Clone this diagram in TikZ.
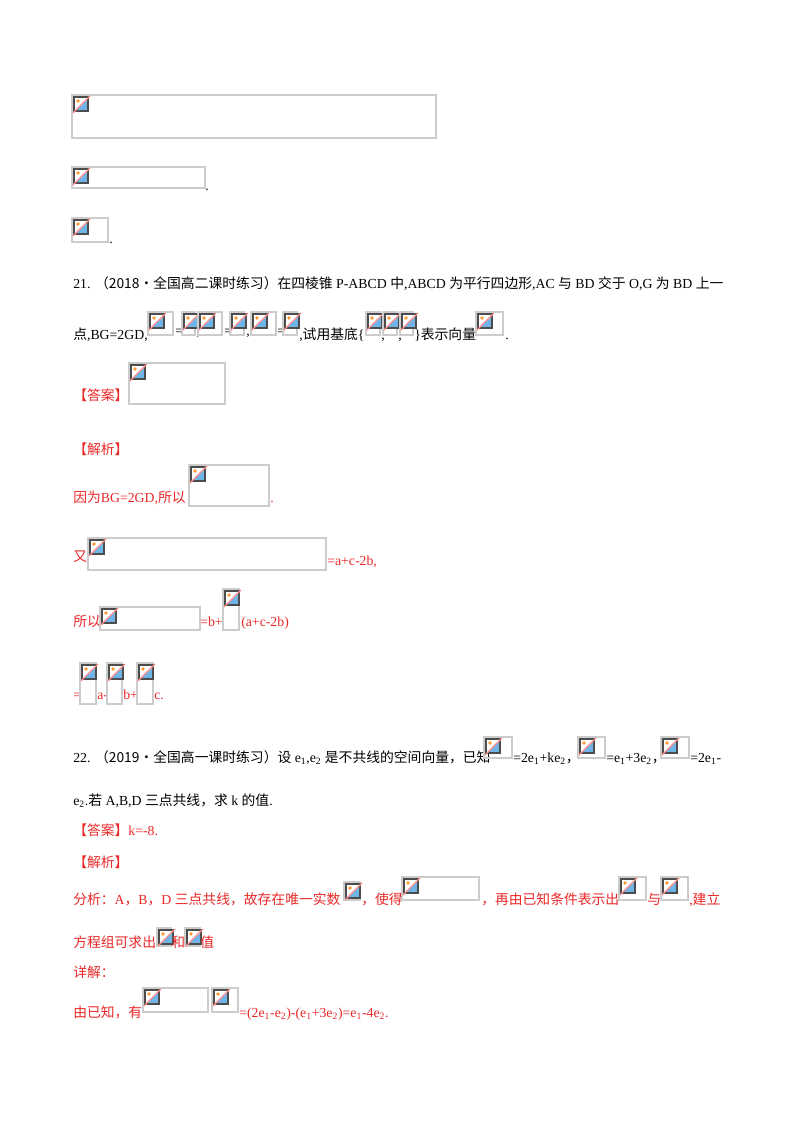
\documentclass[tikz,border=0pt]{standalone}
\usepackage{fontspec}
\setmainfont{Liberation Serif}
\newfontfamily\cjk{Noto Sans CJK SC}
\definecolor{ansred}{RGB}{235,40,40}
\definecolor{mtn}{RGB}{110,180,230}
\newcommand\phbox[4]{%
  \draw[black!20,line width=0.9] (#1,#2) rectangle ({#1+#3},{#2+#4});
  \fill[white] ({#1+1},{#2+1}) rectangle +(16,16);
  \fill[mtn] ({#1+4},{#2+15}) -- ({#1+15},{#2+5}) -- ({#1+15},{#2+15}) -- cycle;
  \fill[orange!80] ({#1+6},{#2+6}) circle (1.8);
  \draw[black!70,line width=1.3] ({#1+2},{#2+2}) rectangle +(14,14);
  \draw[red!45,line width=0.9] ({#1+1},{#2+18}) -- ({#1+18},{#2+1});
}
\newcommand\tx[3]{\node[anchor=base west,inner sep=0,font=\fontsize{10.35pt}{12pt}\selectfont] at (#1,#2) {#3};}
\newcommand\rt[3]{\node[anchor=base west,inner sep=0,text=ansred,font=\fontsize{10.35pt}{12pt}\selectfont] at (#1,#2) {#3};}
\begin{document}
\begin{tikzpicture}[x=0.75pt,y=-0.75pt]
\useasboundingbox[fill=white] (0,0) rectangle (800,1132);
\phbox{72}{95}{364}{43}
\phbox{72}{167}{133}{21}\tx{205}{190}{.}
\phbox{72}{218}{36}{24}\tx{109}{243}{.}
\tx{73}{288}{21.\,\,{\cjk （2018·全国高二课时练习）在四棱锥} P-ABCD {\cjk 中},ABCD {\cjk 为平行四边形},AC {\cjk 与} BD {\cjk 交于} O,G {\cjk 为} BD {\cjk 上一}}
\tx{73}{339}{{\cjk 点},BG=2GD,}
\phbox{148}{312}{25}{23}\tx{175}{335}{=}
\phbox{182}{312}{13}{23}\tx{196}{335}{,}
\phbox{198}{312}{24}{23}\tx{224}{335}{=}
\phbox{230}{312}{14}{23}\tx{246}{335}{,}
\phbox{251}{312}{25}{23}\tx{277}{335}{=}
\phbox{283}{312}{14}{23}
\tx{299}{339}{,{\cjk 试用基底}\{}
\phbox{366}{312}{14}{23}\tx{381}{339}{,}
\phbox{383}{312}{14}{23}\tx{398}{339}{,}
\phbox{400}{312}{13}{23}
\tx{414}{339}{\}{\cjk 表示向量}}
\phbox{476}{312}{27}{23}\tx{505}{339}{.}
\rt{73}{400}{\cjk 【答案】}
\phbox{129}{363}{96}{41}
\rt{73}{454}{\cjk 【解析】}
\rt{73}{502}{{\cjk 因为}BG=2GD,{\cjk 所以}}
\phbox{189}{465}{80}{41}\rt{270}{502}{.}
\rt{73}{561}{\cjk 又}
\phbox{88}{538}{238}{32}\rt{327}{565}{=a+c-2b,}
\rt{73}{626}{\cjk 所以}
\phbox{100}{607}{100}{23}\rt{200}{626}{=b+}
\phbox{223}{589}{16}{41}\rt{241}{626}{(a+c-2b)}
\rt{73}{699}{=}
\phbox{80}{663}{16}{41}\rt{97}{699}{a-}
\phbox{107}{663}{15}{41}\rt{123}{699}{b+}
\phbox{137}{663}{16}{41}\rt{154}{699}{c.}
\tx{73}{762}{22.\,\,{\cjk （2019·全国高一课时练习）设} e\textsubscript{1},e\textsubscript{2} {\cjk 是不共线的空间向量，已知}}
\phbox{484}{737}{28}{21}\tx{513}{762}{=2e\textsubscript{1}+ke\textsubscript{2}{\cjk ，}}
\phbox{578}{737}{27}{21}\tx{606}{762}{=e\textsubscript{1}+3e\textsubscript{2}{\cjk ，}}
\phbox{661}{737}{28}{21}\tx{690}{762}{=2e\textsubscript{1}-}
\tx{73}{805}{e\textsubscript{2}.{\cjk 若} A,B,D {\cjk 三点共线，求} k {\cjk 的值}.}
\rt{73}{835}{{\cjk 【答案】}k=-8.}
\rt{73}{867}{\cjk 【解析】}
\rt{73}{904}{{\cjk 分析：}A{\cjk ，}B{\cjk ，}D {\cjk 三点共线，故存在唯一实数}}
\phbox{344}{882}{16}{18}\rt{361}{904}{\cjk ，使得}
\phbox{402}{877}{77}{23}\rt{481}{904}{\cjk ，再由已知条件表示出}
\phbox{619}{877}{27}{23}\rt{647}{904}{\cjk 与}
\phbox{661}{877}{27}{23}\rt{689}{904}{,{\cjk 建立}}
\rt{73}{947}{\cjk 方程组可求出}
\phbox{157}{928}{14}{18}\rt{171}{947}{\cjk 和}
\phbox{185}{928}{15}{18}\rt{200}{947}{\cjk 值}
\rt{73}{977}{\cjk 详解：}
\rt{73}{1017}{\cjk 由已知，有}
\phbox{143}{988}{65}{24}
\phbox{212}{988}{26}{24}\rt{239}{1017}{=(2e\textsubscript{1}-e\textsubscript{2})-(e\textsubscript{1}+3e\textsubscript{2})=e\textsubscript{1}-4e\textsubscript{2}.}
\end{tikzpicture}
\end{document}
